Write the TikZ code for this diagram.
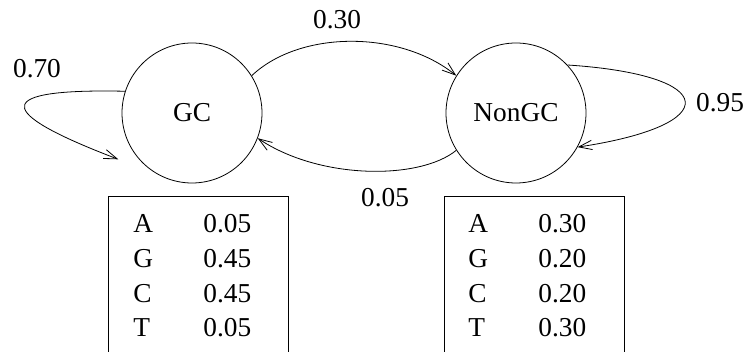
\documentclass[tikz,border=0pt]{standalone}
\usepackage{fontspec}
\setmainfont{Liberation Serif}
\usetikzlibrary{arrows.meta}

\tikzset{
  state/.style={draw, circle, minimum size=105pt, inner sep=0pt},
  emitbox/.style={draw, rectangle, minimum width=135pt, minimum height=132pt, anchor=north},
  trans/.style={-{Straight Barb[length=10pt, width=7pt]}},
}

\newcommand{\emitrows}[4]{%
  \begin{tabular}[t]{@{}p{52.5pt}@{}l@{}}
    A & #1\\ G & #2\\ C & #3\\ T & #4
  \end{tabular}}

\begin{document}
\begin{tikzpicture}[x=0.75pt, y=-0.75pt, line width=0.6pt, font=\fontsize{20.5}{26}\selectfont]
  \clip (0,0) rectangle (747,352);
  % states
  \node[state] (gc) at (192,113) {GC};
  \node[state] (nongc) at (516,113) {NonGC};
  % emission tables
  \node[emitbox] (gcemit) at (198,196) {};
  \node[emitbox] (nongcemit) at (534,196) {};
  \node[anchor=base west, inner sep=0pt] (gcrows) at (133,233) {\emitrows{0.05}{0.45}{0.45}{0.05}};
  \node[anchor=base west, inner sep=0pt] (nongcrows) at (468,233) {\emitrows{0.30}{0.20}{0.20}{0.30}};
  % transitions
  \draw[trans] (gc.32) .. controls (300,30) and (400,30) .. (nongc.148);
  \draw[trans] (nongc.212) .. controls (420,180) and (320,180) .. (gc.-21);
  \draw[trans] (gc.162) .. controls (-25,88) and (10,118) .. ([shift={(-14,9)}]gc.212);
  \draw[trans] (nongc.43) .. controls (720,75) and (725,125) .. (nongc.-29);
  % probabilities
  \node (p30) at (337,20) {0.30};
  \node (p70) at (37,69) {0.70};
  \node (p95) at (720,103) {0.95};
  \node (p05) at (385,198) {0.05};
\end{tikzpicture}
\end{document}
